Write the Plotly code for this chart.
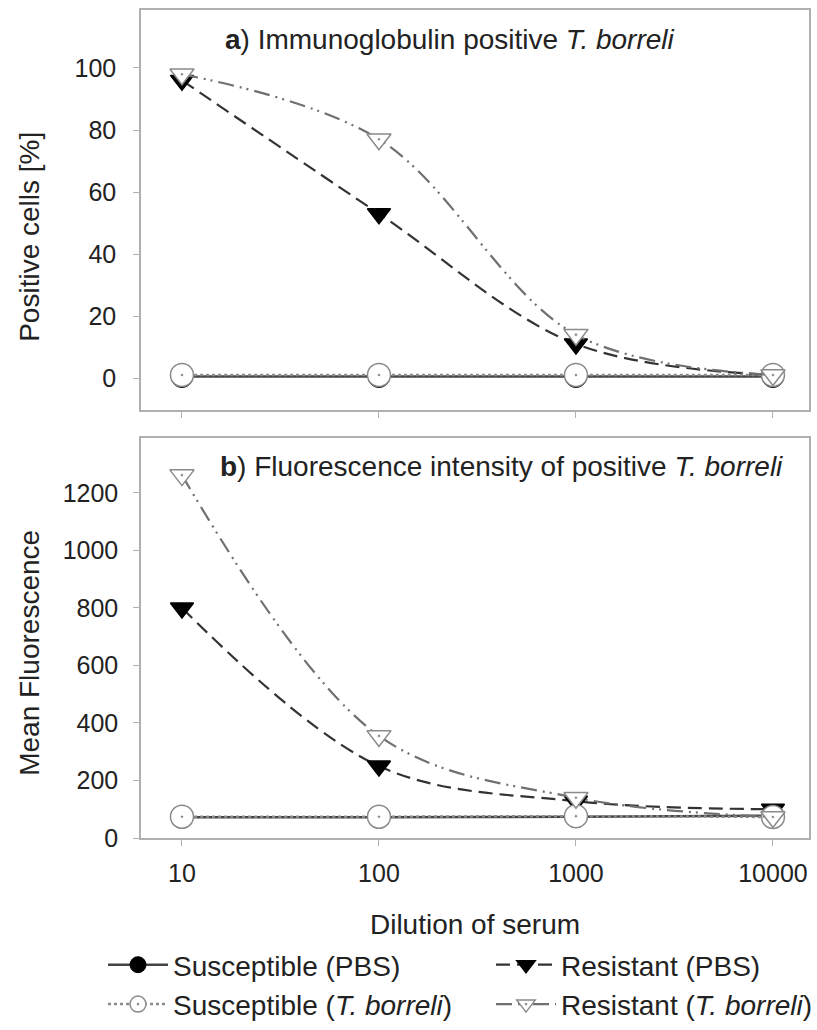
import plotly.graph_objects as go
from plotly.subplots import make_subplots

# ---- data ----
dilution = [10, 100, 1000, 10000]
x_tick_labels = ["10", "100", "1000", "10000"]

pos_sus_pbs = [0.5, 0.5, 0.5, 0.5]
pos_sus_tb = [1.0, 1.0, 1.0, 1.0]
pos_res_pbs = [96, 53, 11, 1]
pos_res_tb = [98, 77, 14, 1]

mf_sus_pbs = [72, 72, 74, 78]
mf_sus_tb = [74, 74, 76, 73]
mf_res_pbs = [800, 250, 128, 100]
mf_res_tb = [1262, 355, 140, 73]

y1_ticks = [0, 20, 40, 60, 80, 100]
y2_ticks = [0, 200, 400, 600, 800, 1000, 1200]

names = ["Susceptible (PBS)", "Resistant (PBS)",
         "Susceptible (<i>T. borreli</i>)", "Resistant (<i>T. borreli</i>)"]

FONT = "Liberation Sans, Arial, sans-serif"
TXT = "#222222"
FRAME = "#b0b0b0"

fig = make_subplots(rows=2, cols=1, shared_xaxes=False, vertical_spacing=0.0)

styles = {
    "sus_pbs": dict(line=dict(color="#444444", width=2.5, dash="solid"),
                    marker=dict(symbol="circle", size=22, color="black",
                                line=dict(color="black", width=1))),
    "res_pbs": dict(line=dict(color="#333333", width=2.2, dash="14px,7px"),
                    marker=dict(symbol="triangle-down", size=20, color="black",
                                line=dict(color="black", width=1.5))),
    "sus_tb": dict(line=dict(color="#8a8a8a", width=2.5, dash="dot"),
                   marker=dict(symbol="circle-dot", size=23, color="white",
                               line=dict(color="#8a8a8a", width=1.5))),
    "res_tb": dict(line=dict(color="#707070", width=2.2,
                             dash="16px,6px,2px,5px,2px,6px"),
                   marker=dict(symbol="triangle-down-dot", size=21, color="white",
                               line=dict(color="#8a8a8a", width=1.5))),
}

# drawing order: PBS first (underneath), T. borreli on top
series_top = [("sus_pbs", pos_sus_pbs, names[0], "legend", 1),
              ("res_pbs", pos_res_pbs, names[1], "legend2", 1),
              ("sus_tb", pos_sus_tb, names[2], "legend", 2),
              ("res_tb", pos_res_tb, names[3], "legend2", 2)]
series_bot = [("sus_pbs", mf_sus_pbs), ("res_pbs", mf_res_pbs),
              ("sus_tb", mf_sus_tb), ("res_tb", mf_res_tb)]

for key, vals, nm, lg, rank in series_top:
    st = styles[key]
    fig.add_trace(go.Scatter(x=dilution, y=vals, mode="lines+markers", name=nm,
                             line=dict(shape="spline", **st["line"]),
                             marker=st["marker"], legend=lg, legendrank=rank,
                             showlegend=True), row=1, col=1)
for key, vals in series_bot:
    st = styles[key]
    fig.add_trace(go.Scatter(x=dilution, y=vals, mode="lines+markers",
                             line=dict(shape="spline", **st["line"]),
                             marker=st["marker"], showlegend=False), row=2, col=1)

axis_common = dict(showline=True, linecolor=FRAME, linewidth=1.5, mirror=True,
                   ticks="outside", tickcolor=FRAME, ticklen=6, tickwidth=1.2,
                   showgrid=False, zeroline=False, automargin=False,
                   tickfont=dict(family=FONT, size=25, color=TXT))

fig.update_xaxes(type="log", range=[0.792, 4.183], tickvals=dilution,
                 ticktext=x_tick_labels, **axis_common)
fig.update_xaxes(showticklabels=False, row=1, col=1)
fig.update_xaxes(ticklabelstandoff=6, row=2, col=1)
fig.update_yaxes(**axis_common)
fig.update_yaxes(range=[-10.3, 118.7], tickvals=y1_ticks, ticklabelstandoff=12,
                 row=1, col=1)
fig.update_yaxes(range=[0, 1391], tickvals=y2_ticks, ticklabelstandoff=10,
                 row=2, col=1)

fig.update_layout(
    yaxis=dict(domain=[0.5169, 1.0]),
    yaxis2=dict(domain=[0.0, 0.4831]),
)

fig.update_xaxes(title=dict(text="Dilution of serum", standoff=29,
                            font=dict(family=FONT, size=28, color=TXT)),
                 row=2, col=1)

annos = [
    dict(text="<b>a</b>) Immunoglobulin positive <i>T. borreli</i>",
         x=0.1228, y=0.9645, xref="paper", yref="paper", xanchor="left",
         yanchor="middle", showarrow=False, font=dict(family=FONT, size=28, color=TXT)),
    dict(text="<b>b</b>) Fluorescence intensity of positive <i>T. borreli</i>",
         x=0.1153, y=0.4481, xref="paper", yref="paper", xanchor="left",
         yanchor="middle", showarrow=False, font=dict(family=FONT, size=28, color=TXT)),
    dict(text="Positive cells [%]", x=-0.168, y=0.7258, xref="paper", yref="paper",
         xanchor="center", yanchor="middle", textangle=-90, showarrow=False,
         font=dict(family=FONT, size=28, color=TXT)),
    dict(text="Mean Fluorescence", x=-0.168, y=0.2234, xref="paper", yref="paper",
         xanchor="center", yanchor="middle", textangle=-90, showarrow=False,
         font=dict(family=FONT, size=28, color=TXT)),
]

legend_common = dict(orientation="v", xref="container", yref="container",
                     xanchor="left", yanchor="top", itemwidth=60,
                     font=dict(family=FONT, size=28, color=TXT),
                     bgcolor="rgba(0,0,0,0)", tracegroupgap=0)

fig.update_layout(
    width=817, height=1030,
    margin=dict(l=141, r=8, t=10, b=192, autoexpand=False),
    paper_bgcolor="white", plot_bgcolor="white",
    font=dict(family=FONT, size=28, color=TXT),
    annotations=annos,
    legend=dict(x=103 / 817, y=1 - 940 / 1030, **legend_common),
    legend2=dict(x=491 / 817, y=1 - 940 / 1030, **legend_common),
)

fig.write_html("out.html", config={"displayModeBar": False},
               post_script="document.body.style.margin='0px';"
                           "document.body.style.overflow='hidden';")
